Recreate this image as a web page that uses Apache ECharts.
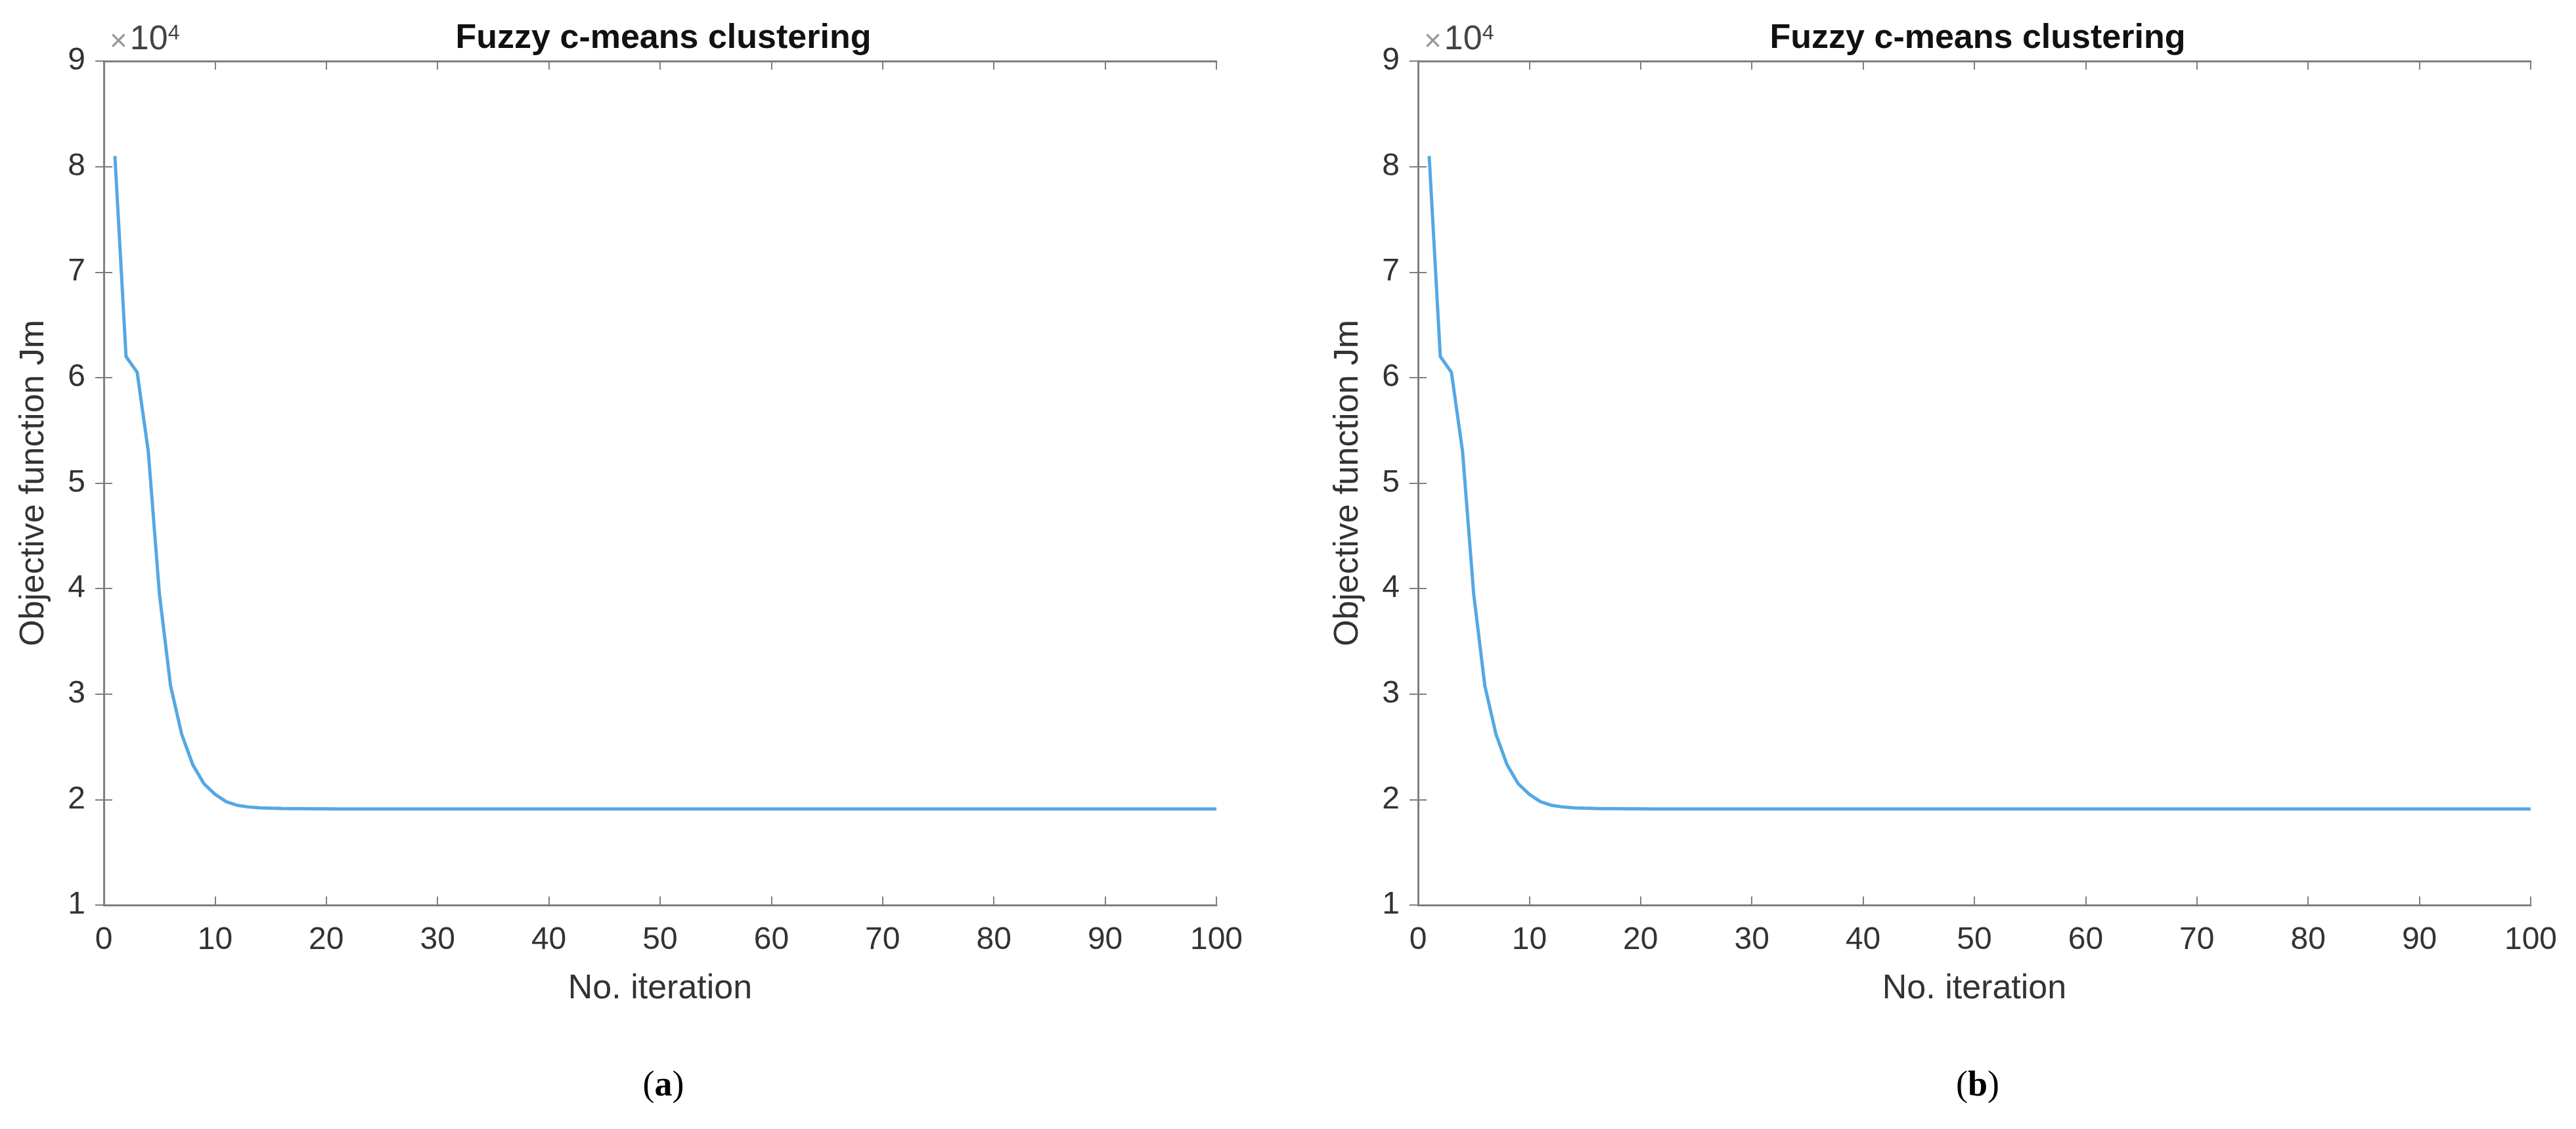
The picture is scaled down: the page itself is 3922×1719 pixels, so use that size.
<!DOCTYPE html>
<html>
<head>
<meta charset="utf-8">
<script src="https://cdn.jsdelivr.net/npm/echarts@6/dist/echarts.min.js"></script>
<style>
    html, body { margin: 0; padding: 0; background: #fff; }
    #chart { width: 3922px; height: 1719px; }
</style>
</head>
<body>
<div id="chart"></div>
<script>
// 迭代次数
const iterations = [
    1, 2, 3, 4, 5, 6, 7, 8, 9, 10,
    11, 12, 13, 14, 15, 16, 17, 18, 19, 20,
    21, 22, 23, 24, 25, 26, 27, 28, 29, 30,
    31, 32, 33, 34, 35, 36, 37, 38, 39, 40,
    41, 42, 43, 44, 45, 46, 47, 48, 49, 50,
    51, 52, 53, 54, 55, 56, 57, 58, 59, 60,
    61, 62, 63, 64, 65, 66, 67, 68, 69, 70,
    71, 72, 73, 74, 75, 76, 77, 78, 79, 80,
    81, 82, 83, 84, 85, 86, 87, 88, 89, 90,
    91, 92, 93, 94, 95, 96, 97, 98, 99, 100
]
// 目标函数 Jm (a)
const objectiveA = [
    81000, 62000, 60500, 53000, 39500, 30800, 26200, 23300, 21500, 20500,
    19800, 19450, 19300, 19220, 19180, 19150, 19140, 19130, 19120, 19120,
    19110, 19110, 19110, 19100, 19100, 19100, 19100, 19100, 19100, 19100,
    19100, 19100, 19100, 19100, 19100, 19100, 19100, 19100, 19100, 19100,
    19100, 19100, 19100, 19100, 19100, 19100, 19100, 19100, 19100, 19100,
    19100, 19100, 19100, 19100, 19100, 19100, 19100, 19100, 19100, 19100,
    19100, 19100, 19100, 19100, 19100, 19100, 19100, 19100, 19100, 19100,
    19100, 19100, 19100, 19100, 19100, 19100, 19100, 19100, 19100, 19100,
    19100, 19100, 19100, 19100, 19100, 19100, 19100, 19100, 19100, 19100,
    19100, 19100, 19100, 19100, 19100, 19100, 19100, 19100, 19100, 19100
]
// 目标函数 Jm (b)
const objectiveB = [
    81000, 62000, 60500, 53000, 39500, 30800, 26200, 23300, 21500, 20500,
    19800, 19450, 19300, 19220, 19180, 19150, 19140, 19130, 19120, 19120,
    19110, 19110, 19110, 19100, 19100, 19100, 19100, 19100, 19100, 19100,
    19100, 19100, 19100, 19100, 19100, 19100, 19100, 19100, 19100, 19100,
    19100, 19100, 19100, 19100, 19100, 19100, 19100, 19100, 19100, 19100,
    19100, 19100, 19100, 19100, 19100, 19100, 19100, 19100, 19100, 19100,
    19100, 19100, 19100, 19100, 19100, 19100, 19100, 19100, 19100, 19100,
    19100, 19100, 19100, 19100, 19100, 19100, 19100, 19100, 19100, 19100,
    19100, 19100, 19100, 19100, 19100, 19100, 19100, 19100, 19100, 19100,
    19100, 19100, 19100, 19100, 19100, 19100, 19100, 19100, 19100, 19100
]
const chartTitle = 'Fuzzy c-means clustering'
const xName = 'No. iteration'
const yName = 'Objective function Jm'
const panelLabels = ['a', 'b']

const font = 'Liberation Sans, Arial, sans-serif'
const axisColor = '#7f7f7f'
const labelColor = '#333333'
const lineColor = '#54a8e4'

// 两个子图的网格位置
const grids = [
    { left: 158, top: 93, width: 1694, height: 1285 },
    { left: 2159, top: 93, width: 1694, height: 1285 }
]

const axisLineStyle = { show: true, lineStyle: { color: axisColor, width: 3 } }
const tickStyle = { show: true, inside: true, length: 13, lineStyle: { color: axisColor, width: 2 } }

// 底部x轴 + 顶部x轴(只画刻度)
const getXAxis = () => {
    const list = []
    grids.forEach((g, i) => {
        list.push({
            type: 'value', gridIndex: i, position: 'bottom',
            min: 0, max: 100, interval: 10,
            axisLine: axisLineStyle, axisTick: tickStyle, splitLine: { show: false },
            axisLabel: { color: labelColor, fontFamily: font, fontSize: 48, margin: 30 },
            name: xName, nameLocation: 'middle', nameGap: 102,
            nameTextStyle: { color: labelColor, fontFamily: font, fontSize: 52 }
        })
        list.push({
            type: 'value', gridIndex: i, position: 'top',
            min: 0, max: 100, interval: 10,
            axisLine: axisLineStyle, axisTick: tickStyle, splitLine: { show: false },
            axisLabel: { show: false }
        })
    })
    return list
}
// 左侧y轴 + 右侧y轴(只画刻度)
const getYAxis = () => {
    const list = []
    grids.forEach((g, i) => {
        list.push({
            type: 'value', gridIndex: i, position: 'left',
            min: 10000, max: 90000, interval: 10000,
            axisLine: axisLineStyle, axisTick: tickStyle, splitLine: { show: false },
            axisLabel: {
                color: labelColor, fontFamily: font, fontSize: 48, margin: 28,
                formatter: v => String(v / 10000)
            },
            name: yName, nameLocation: 'middle', nameGap: 80,
            nameTextStyle: { color: labelColor, fontFamily: font, fontSize: 52 }
        })
        list.push({
            type: 'value', gridIndex: i, position: 'right',
            min: 10000, max: 90000, interval: 10000,
            axisLine: axisLineStyle, axisTick: tickStyle, splitLine: { show: false },
            axisLabel: { show: false }
        })
    })
    return list
}

const getSeries = () => {
    return [objectiveA, objectiveB].map((values, i) => ({
        type: 'line',
        xAxisIndex: i * 2,
        yAxisIndex: i * 2,
        data: iterations.map((it, k) => [it, values[k]]),
        showSymbol: false,
        lineStyle: { color: lineColor, width: 5 },
        animation: false
    }))
}

const getTitles = () => {
    const list = []
    grids.forEach((g, i) => {
        list.push({
            text: chartTitle,
            left: g.left + g.width / 2, top: 28, textAlign: 'center',
            textStyle: { color: '#111', fontFamily: font, fontSize: 52, fontWeight: 'bold' }
        })
        // ×10^4 指数标记
        list.push({
            text: '{x|×}{b|10}{s|4}',
            left: g.left + 4, top: 30,
            textStyle: {
                fontWeight: 'normal',
                rich: {
                    x: { color: '#999999', fontFamily: font, fontSize: 46, fontWeight: 'normal', verticalAlign: 'bottom', padding: [0, 4, 0, 0] },
                    b: { color: '#444444', fontFamily: font, fontSize: 52, fontWeight: 'normal', verticalAlign: 'bottom' },
                    s: { color: '#444444', fontFamily: font, fontSize: 32, fontWeight: 'normal', verticalAlign: 'top' }
                }
            }
        })
        list.push({
            text: '{p|(}{l|' + panelLabels[i] + '}{p|)}',
            left: g.left + g.width / 2, top: 1622, textAlign: 'center',
            textStyle: {
                rich: {
                    p: { color: '#000', fontFamily: 'Liberation Serif, serif', fontSize: 54, fontWeight: 'normal' },
                    l: { color: '#000', fontFamily: 'Liberation Serif, serif', fontSize: 54, fontWeight: 'bold' }
                }
            }
        })
    })
    return list
}

const chart = echarts.init(document.getElementById('chart'))
chart.setOption({
    backgroundColor: '#ffffff',
    animation: false,
    title: getTitles(),
    grid: grids,
    xAxis: getXAxis(),
    yAxis: getYAxis(),
    series: getSeries()
})
</script>
</body>
</html>
